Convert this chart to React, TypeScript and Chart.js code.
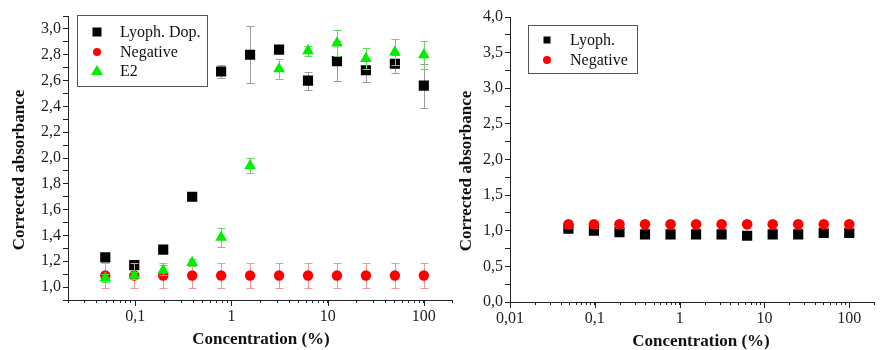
import React, { useEffect, useRef } from 'react';
import { Chart, registerables } from 'chart.js';

Chart.register(...registerables);

// ---------- data ----------
const CONCENTRATIONS = [0.048828125, 0.09765625, 0.1953125, 0.390625, 0.78125, 1.5625, 3.125, 6.25, 12.5, 25, 50, 100];

// left panel
const LYOPH_DOP = [1.23, 1.17, 1.29, 1.70, 2.67, 2.80, 2.84, 2.60, 2.75, 2.68, 2.73, 2.56];
const LYOPH_DOP_ERR = [0.02, 0.02, 0.02, 0.02, 0.05, 0.22, 0.02, 0.07, 0.155, 0.09, 0.07, 0.17];
const NEGATIVE_LEFT = [1.09, 1.09, 1.09, 1.09, 1.09, 1.09, 1.09, 1.09, 1.09, 1.09, 1.09, 1.09];
const NEGATIVE_LEFT_ERR = [0.1, 0.1, 0.1, 0.1, 0.1, 0.1, 0.1, 0.1, 0.1, 0.1, 0.1, 0.1];
const E2 = [1.07, 1.09, 1.13, 1.19, 1.385, 1.94, 2.69, 2.83, 2.89, 2.77, 2.82, 2.80];
const E2_ERR = [0.03, 0.03, 0.04, 0.03, 0.075, 0.06, 0.08, 0.04, 0.10, 0.08, 0.10, 0.11];

// right panel
const LYOPH = [1.03, 1.00, 0.98, 0.95, 0.95, 0.95, 0.95, 0.93, 0.95, 0.95, 0.97, 0.97];
const LYOPH_ERR = [0.02, 0.02, 0.02, 0.02, 0.02, 0.02, 0.02, 0.02, 0.02, 0.02, 0.02, 0.02];
const NEGATIVE_RIGHT = [1.09, 1.09, 1.09, 1.09, 1.09, 1.09, 1.09, 1.09, 1.09, 1.09, 1.09, 1.09];
const NEGATIVE_RIGHT_ERR = [0.05, 0.05, 0.05, 0.05, 0.05, 0.05, 0.05, 0.05, 0.05, 0.05, 0.05, 0.05];

// axis ticks
const X_TICK_VALUES = [
  0.01, 0.02, 0.03, 0.04, 0.05, 0.06, 0.07, 0.08, 0.09,
  0.1, 0.2, 0.3, 0.4, 0.5, 0.6, 0.7, 0.8, 0.9,
  1, 2, 3, 4, 5, 6, 7, 8, 9,
  10, 20, 30, 40, 50, 60, 70, 80, 90,
  100, 200,
];
const X_MAJOR_LABELS: Record<string, string> = { '0.01': '0,01', '0.1': '0,1', '1': '1', '10': '10', '100': '100' };

const X_TITLE = 'Concentration (%)';
const Y_TITLE = 'Corrected absorbance';

const SERIF = "'Liberation Serif', 'Times New Roman', serif";

// ---------- plugins ----------
const errorBarPlugin = {
  id: 'errorBars',
  beforeDatasetDraw(chart: any, args: any) {
    const ds = chart.data.datasets[args.index];
    const errs: number[] | undefined = ds.errors;
    if (!errs) return;
    const ys = chart.scales.y;
    const ctx = chart.ctx;
    ctx.save();
    ctx.strokeStyle = ds.errorColor;
    ctx.lineWidth = 1;
    args.meta.data.forEach((el: any, i: number) => {
      const v = ds.data[i].y;
      const e = errs[i];
      const x = Math.round(el.x) + 0.5;
      const y1 = Math.round(ys.getPixelForValue(v + e)) + 0.5;
      const y2 = Math.round(ys.getPixelForValue(v - e)) + 0.5;
      ctx.beginPath();
      ctx.moveTo(x, y1);
      ctx.lineTo(x, y2);
      ctx.moveTo(x - 4, y1);
      ctx.lineTo(x + 4, y1);
      ctx.moveTo(x - 4, y2);
      ctx.lineTo(x + 4, y2);
      ctx.stroke();
    });
    ctx.restore();
  },
};

// longer tick marks for the labelled decades of the log axis
const majorTickPlugin = {
  id: 'majorTicks',
  afterDraw(chart: any) {
    const xs = chart.scales.x;
    const ctx = chart.ctx;
    ctx.save();
    ctx.strokeStyle = '#222';
    ctx.lineWidth = 1;
    xs.ticks.forEach((t: any) => {
      if (!t.label) return;
      const x = Math.round(xs.getPixelForValue(t.value)) + 0.5;
      ctx.beginPath();
      ctx.moveTo(x, xs.top);
      ctx.lineTo(x, xs.top + 6);
      ctx.stroke();
    });
    ctx.restore();
  },
};

function drawMarker(ctx: CanvasRenderingContext2D, style: string, x: number, y: number, size: number, color: string) {
  ctx.fillStyle = color;
  ctx.beginPath();
  if (style === 'rect') {
    ctx.rect(x - size / 2, y - size / 2, size, size);
  } else if (style === 'circle') {
    ctx.arc(x, y, size / 2, 0, Math.PI * 2);
  } else if (style === 'triangle') {
    const h = size * 0.85;
    ctx.moveTo(x, y - h * 0.6);
    ctx.lineTo(x + size / 2, y + h * 0.4);
    ctx.lineTo(x - size / 2, y + h * 0.4);
    ctx.closePath();
  }
  ctx.fill();
}

const boxLegendPlugin = {
  id: 'boxLegend',
  afterDraw(chart: any) {
    const o = chart.options.plugins.boxLegend;
    if (!o) return;
    const ctx = chart.ctx;
    ctx.save();
    ctx.strokeStyle = '#555';
    ctx.lineWidth = 1;
    ctx.strokeRect(o.box[0] + 0.5, o.box[1] + 0.5, o.box[2], o.box[3]);
    ctx.font = `16px ${SERIF}`;
    ctx.textBaseline = 'middle';
    ctx.textAlign = 'left';
    chart.data.datasets.forEach((ds: any, i: number) => {
      const y = o.rowY[i];
      drawMarker(ctx, ds.pointStyle, o.markerX, y, o.markerSizes[i], ds.backgroundColor);
      ctx.fillStyle = '#111';
      ctx.fillText(ds.label, o.textX, y + 1);
    });
    ctx.restore();
  },
};

const axisTitlePlugin = {
  id: 'axisTitles',
  afterDraw(chart: any) {
    const o = chart.options.plugins.axisTitles;
    if (!o) return;
    const ctx = chart.ctx;
    ctx.save();
    ctx.fillStyle = '#111';
    ctx.font = `bold 17px ${SERIF}`;
    ctx.textAlign = 'center';
    ctx.textBaseline = 'middle';
    ctx.fillText(o.xText, o.xPos[0], o.xPos[1]);
    ctx.translate(o.yPos[0], o.yPos[1]);
    ctx.rotate(-Math.PI / 2);
    ctx.fillText(o.yText, 0, 0);
    ctx.restore();
  },
};

// ---------- chart factory ----------
function pts(ys: number[]) {
  return CONCENTRATIONS.map((x, i) => ({ x, y: ys[i] }));
}

function fmtY(v: number) {
  return v.toFixed(1).replace('.', ',');
}

function makeConfig(spec: any): any {
  return {
    type: 'scatter',
    data: { datasets: spec.datasets },
    plugins: [errorBarPlugin, majorTickPlugin, boxLegendPlugin, axisTitlePlugin],
    options: {
      responsive: false,
      animation: false,
      devicePixelRatio: 1,
      layout: { padding: spec.padding },
      plugins: {
        legend: { display: false },
        tooltip: { enabled: false },
        boxLegend: spec.legend,
        axisTitles: spec.titles,
      },
      scales: {
        x: {
          type: 'logarithmic',
          min: spec.xMin,
          max: spec.xMax,
          afterBuildTicks: (s: any) => {
            s.ticks = X_TICK_VALUES.filter((v) => v >= spec.xMin * 0.999 && v <= spec.xMax * 1.001).map((v) => ({ value: v }));
          },
          afterFit: (s: any) => {
            s.height = spec.xHeight;
          },
          ticks: {
            autoSkip: false,
            maxRotation: 0,
            minRotation: 0,
            padding: 4,
            color: '#222',
            font: { family: SERIF, size: 16 },
            callback: (v: any) => {
              const key = String(Number(Number(v).toPrecision(6)));
              return X_MAJOR_LABELS[key] ?? '';
            },
          },
          grid: { display: true, drawOnChartArea: false, drawTicks: true, tickLength: 3, tickColor: '#222' },
          border: { display: true, color: '#222', width: 1 },
        },
        y: {
          type: 'linear',
          min: spec.yMin,
          max: spec.yMax,
          afterFit: (s: any) => {
            s.width = spec.yWidth;
          },
          ticks: {
            stepSize: spec.yStep,
            autoSkip: false,
            padding: 2,
            color: '#222',
            font: { family: SERIF, size: 16 },
            callback: (v: any) => {
              const n = Number(v) / spec.yMajor;
              return Math.abs(n - Math.round(n)) < 1e-6 ? fmtY(Number(v)) : '';
            },
          },
          grid: { display: true, drawOnChartArea: false, drawTicks: true, tickLength: 5, tickColor: '#222' },
          border: { display: true, color: '#222', width: 1 },
        },
      },
    },
  };
}

const leftSpec = {
  xMin: 0.02,
  xMax: 200,
  yMin: 0.9,
  yMax: 3.1,
  yStep: 0.1,
  yMajor: 0.2,
  yWidth: 68,
  xHeight: 50,
  padding: { left: 0, right: 7, top: 16, bottom: 0 },
  datasets: [
    {
      label: 'Lyoph. Dop.',
      data: pts(LYOPH_DOP),
      errors: LYOPH_DOP_ERR,
      errorColor: '#9a9a9a',
      pointStyle: 'rect',
      pointRadius: 7.2,
      pointBorderWidth: 0,
      backgroundColor: '#000000',
      borderColor: '#000000',
      order: 3,
    },
    {
      label: 'Negative',
      data: pts(NEGATIVE_LEFT),
      errors: NEGATIVE_LEFT_ERR,
      errorColor: '#e89a9a',
      pointStyle: 'circle',
      pointRadius: 5.2,
      pointBorderWidth: 0,
      backgroundColor: '#ff0000',
      borderColor: '#ff0000',
      order: 2,
    },
    {
      label: 'E2',
      data: pts(E2),
      errors: E2_ERR,
      errorColor: '#5fdc5f',
      pointStyle: 'triangle',
      pointRadius: 6.8,
      pointBorderWidth: 0,
      backgroundColor: '#00ee00',
      borderColor: '#00ee00',
      order: 1,
    },
  ],
  legend: {
    box: [77, 15, 130, 71],
    markerX: 97,
    textX: 120,
    rowY: [32, 52, 71],
    markerSizes: [9, 8, 12],
  },
  titles: {
    xText: X_TITLE,
    xPos: [261, 340],
    yText: Y_TITLE,
    yPos: [20, 170],
  },
};

const rightSpec = {
  xMin: 0.01,
  xMax: 200,
  yMin: 0,
  yMax: 4,
  yStep: 0.25,
  yMajor: 0.5,
  yWidth: 60,
  xHeight: 48,
  padding: { left: 0, right: 5, top: 17, bottom: 0 },
  datasets: [
    {
      label: 'Lyoph.',
      data: pts(LYOPH),
      errors: LYOPH_ERR,
      errorColor: '#9a9a9a',
      pointStyle: 'rect',
      pointRadius: 7.2,
      pointBorderWidth: 0,
      backgroundColor: '#000000',
      borderColor: '#000000',
      order: 2,
    },
    {
      label: 'Negative',
      data: pts(NEGATIVE_RIGHT),
      errors: NEGATIVE_RIGHT_ERR,
      errorColor: '#e89a9a',
      pointStyle: 'circle',
      pointRadius: 5.3,
      pointBorderWidth: 0,
      backgroundColor: '#ff0000',
      borderColor: '#ff0000',
      order: 1,
    },
  ],
  legend: {
    box: [78, 25, 109, 48],
    markerX: 97,
    textX: 120,
    rowY: [40, 60],
    markerSizes: [7, 8],
  },
  titles: {
    xText: X_TITLE,
    xPos: [251, 342],
    yText: Y_TITLE,
    yPos: [17, 171],
  },
};

function Panel({ spec, left, width }: { spec: any; left: number; width: number }) {
  const ref = useRef<HTMLCanvasElement | null>(null);
  useEffect(() => {
    if (!ref.current) return;
    const chart = new Chart(ref.current, makeConfig(spec));
    return () => chart.destroy();
  }, [spec]);
  return (
    <canvas
      ref={ref}
      width={width}
      height={350}
      style={{ position: 'absolute', left, top: 0, width, height: 350 }}
    />
  );
}

export default function App() {
  return (
    <div
      style={{
        position: 'fixed',
        left: 0,
        top: 0,
        width: 882,
        height: 350,
        background: '#ffffff',
        overflow: 'hidden',
      }}
    >
      <Panel spec={leftSpec} left={0} width={460} />
      <Panel spec={rightSpec} left={450} width={432} />
    </div>
  );
}
